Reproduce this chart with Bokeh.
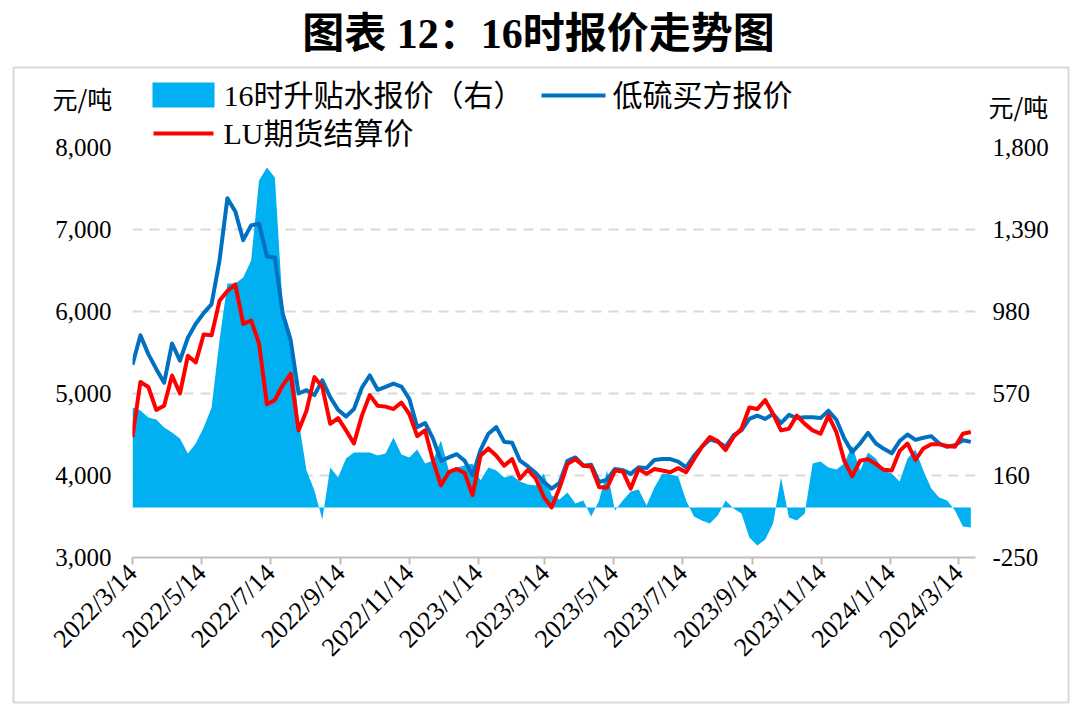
import math
import pandas as pd
from bokeh.plotting import figure
from bokeh.models import Range1d, LinearAxis, FixedTicker, NumeralTickFormatter
from bokeh.core.properties import value
from bokeh.embed import file_html
from bokeh.resources import INLINE

# ---------------- data (weekly readings) ----------------
start_date = "2022-03-14"
n_weeks = 107

premium = [500, 485, 450, 440, 400, 375, 345, 270, 320, 400,
           500, 835, 1120, 1120, 1150, 1235, 1635, 1700, 1650, 1000,
           870, 435, 185, 85, -60, 200, 150, 245, 275, 275,
           275, 260, 270, 350, 265, 250, 290, 220, 235, 335,
           185, 200, 210, 220, 135, 200, 185, 150, 160, 130,
           115, 110, 170, 60, 40, 75, 20, 35, -45, 35,
           185, -15, 35, 80, 90, 10, 100, 170, 165, 155,
           35, -45, -65, -80, -40, 35, -5, -30, -150, -190,
           -160, -80, 150, -50, -65, -30, 220, 230, 200, 190,
           220, 310, 185, 275, 245, 185, 170, 130, 245, 290,
           185, 95, 50, 35, -15, -95, -100]

low_sulfur = [5350, 5710, 5480, 5300, 5130, 5610, 5400, 5680, 5850, 5980,
              6090, 6620, 7380, 7220, 6870, 7050, 7070, 6670, 6660, 5970,
              5650, 5000, 5040, 4980, 5160, 4955, 4800, 4720, 4810, 5070,
              5220, 5045, 5080, 5120, 5085, 4935, 4590, 4640, 4450, 4180,
              4220, 4260, 4180, 4000, 4310, 4510, 4590, 4410, 4400, 4180,
              4110, 4030, 3920, 3840, 3910, 4180, 4220, 4120, 4130, 3920,
              3950, 4080, 4065, 4020, 4100, 4090, 4190, 4200, 4200, 4170,
              4100, 4240, 4350, 4440, 4410, 4350, 4490, 4550, 4690, 4730,
              4690, 4750, 4640, 4740, 4700, 4710, 4710, 4700, 4790, 4680,
              4450, 4285, 4390, 4520, 4390, 4325, 4270, 4420, 4500, 4435,
              4460, 4480, 4390, 4350, 4370, 4430, 4410]

lu_settle = [4470, 5140, 5080, 4800, 4850, 5220, 5000, 5460, 5380, 5720,
             5710, 6130, 6250, 6330, 5850, 5890, 5610, 4870, 4920, 5100,
             5240, 4550, 4790, 5200, 5080, 4630, 4700, 4550, 4390, 4730,
             4980, 4850, 4840, 4810, 4890, 4750, 4480, 4550, 4180, 3880,
             4040, 4080, 4030, 3760, 4240, 4330, 4240, 4120, 4200, 3960,
             4070, 3960, 3740, 3610, 3850, 4140, 4200, 4120, 4110, 3860,
             3850, 4060, 4050, 3840, 4080, 4020, 4080, 4060, 4040, 4090,
             4040, 4200, 4350, 4470, 4420, 4310, 4470, 4570, 4830, 4810,
             4920, 4750, 4550, 4570, 4730, 4630, 4550, 4510, 4730, 4530,
             4180, 3990, 4180, 4200, 4140, 4070, 4060, 4300, 4390, 4190,
             4330, 4380, 4380, 4360, 4350, 4510, 4530]

tick_labels = ["2022/3/14", "2022/5/14", "2022/7/14", "2022/9/14", "2022/11/14",
               "2023/1/14", "2023/3/14", "2023/5/14", "2023/7/14", "2023/9/14",
               "2023/11/14", "2024/1/14", "2024/3/14"]

left_ticks = [3000, 4000, 5000, 6000, 7000, 8000]
right_ticks = [-250, 160, 570, 980, 1390, 1800]

title_text = "图表 12：16时报价走势图"
unit_text = "元/吨"
name_premium = "16时升贴水报价（右）"
name_low = "低硫买方报价"
name_lu = "LU期货结算价"

C_AREA = "#00B0F0"
C_BLUE = "#0070C0"
C_RED = "#FF0000"

# ---------------- derived x values ----------------
t0 = pd.Timestamp(start_date)
dates = pd.date_range(t0, periods=n_weeks, freq="7D")
xdays = [(d - t0).days for d in dates]
tick_days = [(pd.to_datetime(s, format="%Y/%m/%d") - t0).days for s in tick_labels]

# ---------------- layout constants (page px) ----------------
W, H = 1064, 697
FL, FR, FT, FB = 132, 975, 147, 557
PX_PER_DAY = 1.1298
x_end = (FR - FL) / PX_PER_DAY

p = figure(width=W, height=H, output_backend="svg", toolbar_location=None,
           x_range=Range1d(0, x_end), y_range=Range1d(3000, 8000),
           min_border_left=FL, min_border_right=W - FR,
           min_border_top=FT, min_border_bottom=H - FB)
p.extra_y_ranges = {"right": Range1d(-250, 1800)}
p.outline_line_color = None
p.background_fill_color = "white"
p.border_fill_color = "white"

SERIF = "Liberation Serif, Noto Sans CJK SC"
CJK = "Noto Sans CJK SC"

# grid
p.xgrid.visible = False
p.ygrid.ticker = FixedTicker(ticks=left_ticks[1:])
p.ygrid.grid_line_color = "#D9D9D9"
p.ygrid.grid_line_width = 2
p.ygrid.grid_line_dash = "10 7"

# glyphs
p.varea(x=xdays, y1=[0] * n_weeks, y2=premium, y_range_name="right",
        fill_color=C_AREA)
p.line(xdays, low_sulfur, line_color=C_BLUE, line_width=4, line_join="round")
p.line(xdays, lu_settle, line_color=C_RED, line_width=4, line_join="round")

# x axis
xa = p.xaxis[0]
xa.ticker = FixedTicker(ticks=tick_days)
xa.major_label_overrides = {d: s for d, s in zip(tick_days, tick_labels)}
xa.major_label_orientation = math.pi / 4
xa.axis_line_color = "#BFBFBF"
xa.axis_line_width = 2
xa.major_tick_line_color = "#BFBFBF"
xa.major_tick_line_width = 2
xa.major_tick_in = 0
xa.major_tick_out = 7
xa.minor_tick_line_color = None
xa.major_label_standoff = 4
xa.major_label_text_font = "Liberation Serif"
xa.major_label_text_font_size = "26px"
xa.major_label_text_color = "#000000"

# left axis
ya = p.yaxis[0]
ya.ticker = FixedTicker(ticks=left_ticks)
ya.formatter = NumeralTickFormatter(format="0,0")
ya.axis_line_color = None
ya.major_tick_line_color = None
ya.minor_tick_line_color = None
ya.major_label_standoff = 15
ya.major_label_text_font = "Liberation Serif"
ya.major_label_text_font_size = "25px"
ya.major_label_text_color = "#000000"

# right axis
ra = LinearAxis(y_range_name="right", ticker=FixedTicker(ticks=right_ticks),
                formatter=NumeralTickFormatter(format="0,0"))
ra.axis_line_color = None
ra.major_tick_line_color = None
ra.minor_tick_line_color = None
ra.major_label_standoff = 11
ra.major_label_text_font = "Liberation Serif"
ra.major_label_text_font_size = "25px"
ra.major_label_text_color = "#000000"
p.add_layout(ra, "right")

# ---------------- decoration overlay (page-pixel coordinates) ----------------
OW, OH = 1076, 706
ov = figure(width=OW, height=OH, output_backend="svg", toolbar_location=None,
            x_range=Range1d(0, OW), y_range=Range1d(OH, 0),
            x_axis_location=None, y_axis_location=None,
            min_border=0, min_border_left=0, min_border_right=0,
            min_border_top=0, min_border_bottom=0,
            styles={"position": "absolute", "left": "0px", "top": "0px"})
ov.outline_line_color = None
ov.background_fill_color = None
ov.border_fill_color = None
ov.xgrid.visible = False
ov.ygrid.visible = False

# outer frame box
ov.quad(left=[13], right=[1068], top=[67], bottom=[702], fill_color=None,
        line_color="#D9D9D9", line_width=2)

# title
ov.text(x=[538], y=[33], text=[title_text], text_align="center",
        text_baseline="middle", text_font=value(SERIF), text_font_size="42px",
        text_font_style="bold", text_color="#000000")

# units
ov.text(x=[52, 988], y=[97, 105], text=[unit_text, unit_text], text_align="left",
        text_baseline="middle", text_font=value(CJK), text_font_size="25px",
        text_color="#000000")

# legend
ov.quad(left=[152], right=[214], top=[82], bottom=[107], fill_color=C_AREA,
        line_color=None)
ov.segment(x0=[541], y0=[95], x1=[605], y1=[95], line_color=C_BLUE, line_width=4)
ov.segment(x0=[153], y0=[133], x1=[213], y1=[133], line_color=C_RED, line_width=4)
ov.text(x=[223, 612, 223], y=[95, 95, 133], text=[name_premium, name_low, name_lu],
        text_align="left", text_baseline="middle", text_font=value(SERIF),
        text_font_size="30px", text_color="#000000")

open("out.html", "w").write(file_html([p, ov], INLINE))
